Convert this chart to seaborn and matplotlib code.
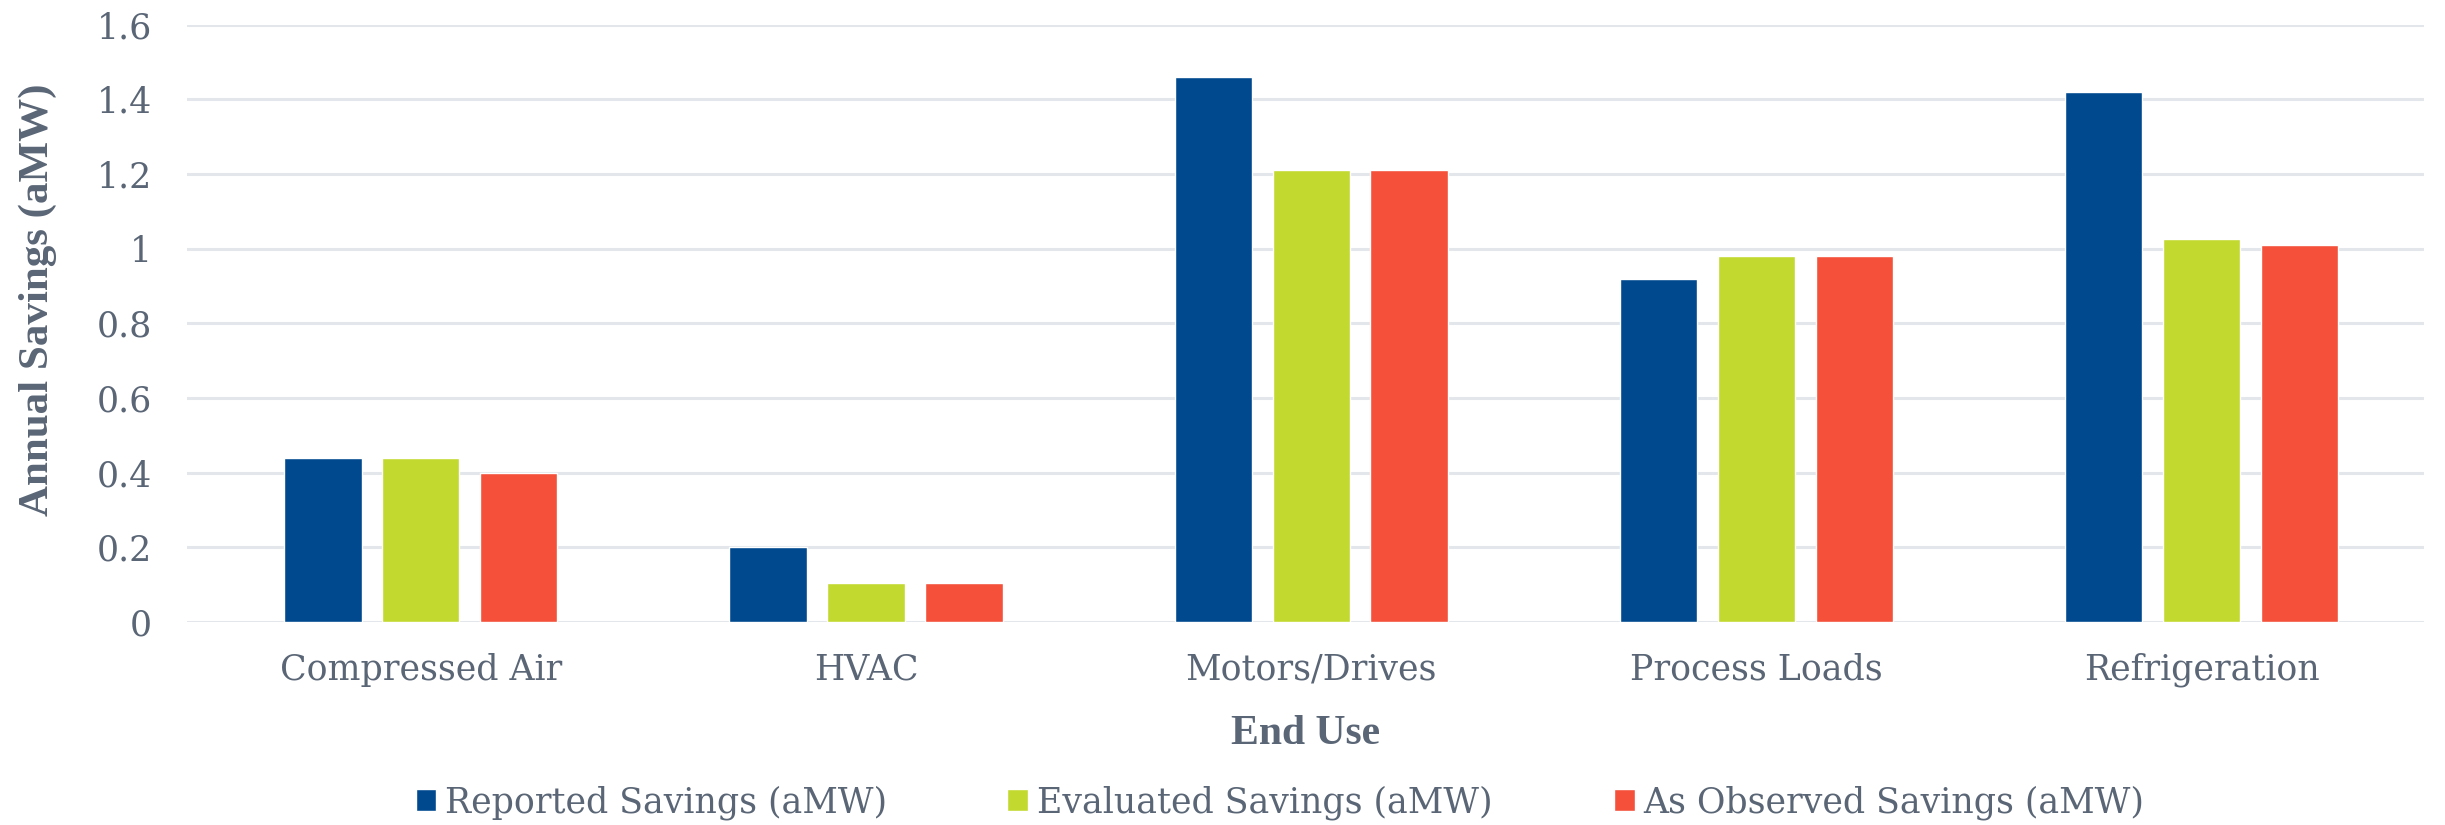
#!/usr/bin/env python3
"""
Annual savings by end use: reported vs evaluated vs as-observed.
"""

import pandas as pd
import matplotlib.pyplot as plt
import seaborn as sns

# Data
end_uses = ["Compressed Air", "HVAC", "Motors/Drives", "Process Loads", "Refrigeration"]
reported = [0.44, 0.20, 1.46, 0.92, 1.42]
evaluated = [0.44, 0.105, 1.21, 0.98, 1.025]
observed = [0.40, 0.105, 1.21, 0.98, 1.01]
series_names = ["Reported Savings (aMW)", "Evaluated Savings (aMW)", "As Observed Savings (aMW)"]
y_ticks = [0, 0.2, 0.4, 0.6, 0.8, 1, 1.2, 1.4, 1.6]

colors = ["#00498F", "#C2D92F", "#F5503A"]
text_color = "#5A6676"
grid_color = "#E3E7EB"

sns.set_style("white")
plt.rcParams["font.family"] = ["DejaVu Serif"]

# Long-form table for seaborn
rows = []
for name, vals in zip(series_names, [reported, evaluated, observed]):
    for cat, v in zip(end_uses, vals):
        rows.append({"End Use": cat, "Series": name, "Savings": v})
df = pd.DataFrame(rows)

fig = plt.figure(figsize=(24.45, 8.25), dpi=100)
ax = fig.add_axes([0.0765, 0.246, 0.915, 0.724])

sns.barplot(data=df, x="End Use", y="Savings", hue="Series", order=end_uses,
            hue_order=series_names, palette=colors, width=0.66, gap=0.21,
            saturation=1, ax=ax, legend=True)

ax.set_ylim(0, 1.6)
ax.set_yticks(y_ticks)
ax.set_yticklabels([f"{t:g}" for t in y_ticks])
ax.set_xlim(-0.525, len(end_uses) - 0.5)

ax.grid(axis="y", color=grid_color, linewidth=2.2)
ax.set_axisbelow(True)
for s in ax.spines.values():
    s.set_visible(False)
ax.tick_params(axis="both", length=0, colors=text_color)
ax.tick_params(axis="x", labelsize=25, pad=22)
ax.tick_params(axis="y", labelsize=25, pad=25)

ax.set_xlabel("End Use", fontsize=30, fontweight="bold", color=text_color,
              family="Liberation Serif", labelpad=20)
ax.set_ylabel("Annual Savings (aMW)", fontsize=31, fontweight="bold", color=text_color,
              family="Liberation Serif")
ax.yaxis.set_label_coords(-0.058, 0.54)

# one legend entry per slot, placed like the original
handles, labels = ax.get_legend_handles_labels()
ax.get_legend().remove()
legend_x = [0.170, 0.412, 0.660]
for h, l, x in zip(handles, labels, legend_x):
    fig.legend([h], [l], loc="center left", bbox_to_anchor=(x, 0.027),
               frameon=False, fontsize=25, labelcolor=text_color,
               handlelength=0.6, handleheight=0.6, handletextpad=0.25,
               borderpad=0, borderaxespad=0)

fig.savefig("out.png", dpi=100)
